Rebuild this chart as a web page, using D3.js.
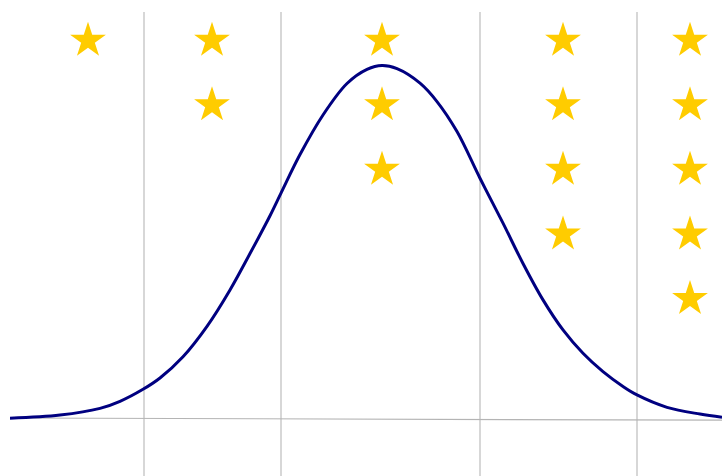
<!DOCTYPE html>
<html>
<head>
<meta charset="utf-8">
<script src="https://cdn.jsdelivr.net/npm/d3@7"></script>
<style>
  html, body { margin: 0; padding: 0; background: #fff; }
  svg { display: block; }
</style>
</head>
<body>
<div id="chart"></div>
<script>
// curve samples (x in sigma-ish units, y as share of peak height)
const curveX = [-3.72, -3.22, -2.82, -2.62, -2.39, -2.22, -1.99, -1.75, -1.52, -1.32, -1.12, -1.01,
  -0.82, -0.59, -0.35, -0.15, 0, 0.15, 0.38, 0.55, 0.75, 0.98, 1.21, 1.41, 1.61, 1.81,
  2.01, 2.21, 2.41, 2.55, 2.85, 3.18, 3.40];
const curveY = [0.002, 0.011, 0.030, 0.050, 0.084, 0.116, 0.176, 0.262, 0.365, 0.468, 0.575, 0.639,
  0.748, 0.860, 0.949, 0.989, 1.000, 0.991, 0.950, 0.898, 0.813, 0.681, 0.554, 0.440, 0.337, 0.252,
  0.186, 0.134, 0.092, 0.068, 0.033, 0.014, 0.005];

// vertical dividers
const gridX = [-2.38, -1.01, 0.98, 2.55];

// star ratings per band
const starColX = [-2.94, -1.70, 0, 1.81, 3.08];
const starCount = [1, 2, 3, 4, 5];

const W = 722, H = 476;

const svg = d3.select("#chart").append("svg")
  .attr("width", W)
  .attr("height", H);

const x = d3.scaleLinear().domain([-3.72, 3.40]).range([10, 722]);
const y = d3.scaleLinear().domain([0, 1]).range([419, 65.5]);
const row = d3.scaleLinear().domain([0, 4]).range([40.5, 298.8]);

// grid
svg.selectAll(".vgrid")
  .data(gridX)
  .enter()
  .append("line")
  .attr("class", "vgrid")
  .attr("x1", d => x(d))
  .attr("x2", d => x(d))
  .attr("y1", 12)
  .attr("y2", H)
  .attr("stroke", "#bdbdbd")
  .attr("stroke-width", 1.2);

svg.append("line")
  .attr("x1", x(-3.72))
  .attr("x2", x(3.40))
  .attr("y1", y(0) - 1)
  .attr("y2", y(0) + 1.2)
  .attr("stroke", "#b4b4b4")
  .attr("stroke-width", 1.2);

// bell curve
const pts = curveX.map((v, i) => [v, curveY[i]]);
svg.append("path")
  .datum(pts)
  .attr("fill", "none")
  .attr("stroke", "#000080")
  .attr("stroke-width", 3)
  .attr("stroke-linejoin", "round")
  .attr("d", d3.line()
    .x(d => x(d[0]))
    .y(d => y(d[1]))
    .curve(d3.curveCatmullRom));

// stars
const stars = [];
starCount.forEach((n, i) => {
  for (let k = 0; k < n; k++) stars.push({ col: starColX[i], k });
});

const starR = 18.8;
svg.selectAll(".star")
  .data(stars)
  .enter()
  .append("path")
  .attr("class", "star")
  .attr("transform", d => `translate(${x(d.col)},${row(d.k)})`)
  .attr("d", d3.symbol().type(d3.symbolStar).size(starR * starR / 0.8908130915292852))
  .attr("fill", "#ffcc00");
</script>
</body>
</html>
